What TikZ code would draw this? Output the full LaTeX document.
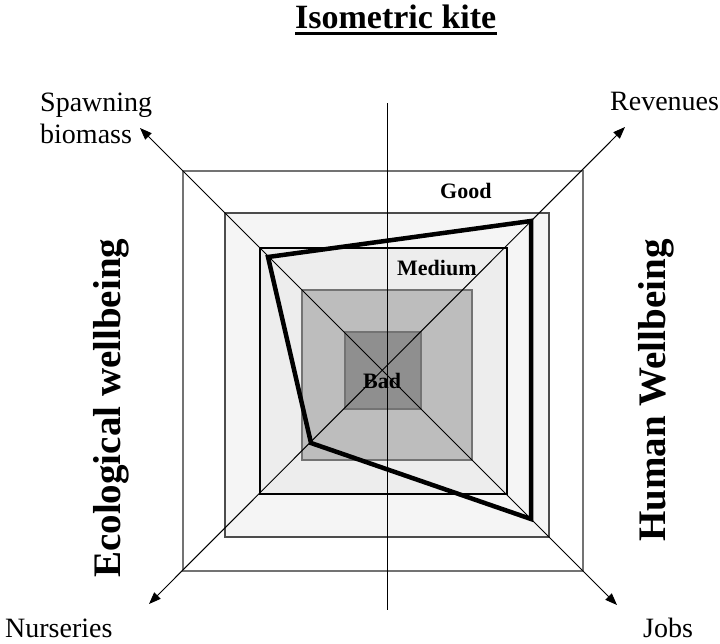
\documentclass[tikz,border=0pt]{standalone}
\usepackage{fontspec}
\setmainfont{Liberation Serif}
\usetikzlibrary{arrows.meta,positioning}

\begin{document}
\begin{tikzpicture}[x=1pt, y=-1pt,
    lbl/.style={inner sep=0pt, anchor=base west, align=left, font=\fontsize{28}{32}\selectfont},
    zone/.style={inner sep=0pt, anchor=base west, font=\bfseries\fontsize{22}{26}\selectfont},
    side/.style={inner sep=0pt, anchor=base west, rotate=90, font=\bfseries\fontsize{39}{44}\selectfont},
    ring/.style={line width=1.5pt},
    axis/.style={{Triangle[length=12pt,width=9pt]}-{Triangle[length=12pt,width=9pt]}, line width=1pt},
    kite/.style={line width=4.5pt, line join=miter}]

    \useasboundingbox (0,0) rectangle (720,643);

    % Title
    \node[inner sep=0pt, anchor=base west, font=\bfseries\fontsize{34}{40}\selectfont] (title) at (295,28) {Isometric kite};
    \draw[line width=3pt] ([yshift=-5pt]title.base west) -- ([yshift=-5pt]title.base east);

    % Zones, from good (outside) to bad (inside)
    \draw[ring, draw=black!55, fill=white] (183,171) rectangle (583,571);
    \draw[ring, draw=black!70, fill=black!4] (225,213) rectangle (549,537);
    \draw[ring, draw=black, fill=black!7] (260,248) rectangle (507,494);
    \draw[ring, draw=black!55, fill=black!26] (302,290) rectangle (472,460);
    \draw[ring, draw=black!55, fill=black!44] (345,332) rectangle (421,409);

    % Axes
    \coordinate (spawn) at (140,128);
    \coordinate (rev) at (625,127);
    \coordinate (nurs) at (149,604);
    \coordinate (jobs) at (617,605);
    \coordinate (top) at (387,103);
    \coordinate (bottom) at (387,610);
    \draw[line width=1pt] (top) -- (bottom);
    \draw[axis] (spawn) -- (jobs);
    \draw[axis] (rev) -- (nurs);

    % Kite
    \coordinate (k1) at (268,257);
    \coordinate (k2) at (531,221);
    \coordinate (k3) at (531,519);
    \coordinate (k4) at (311,443);
    \draw[kite] (k1) -- (k2) -- (k3) -- (k4) -- cycle;

    % Labels
    \node[lbl] (spawnlbl) at (40,143) {Spawning\\biomass};
    \node[lbl] (revlbl) at (610,110) {Revenues};
    \node[lbl] (nurslbl) at (5,637) {Nurseries};
    \node[lbl] (jobslbl) at (643,637) {Jobs};

    \node[zone] (good) at (440,198) {Good};
    \node[zone] (medium) at (397,275) {Medium};
    \node[zone] (bad) at (363,388) {Bad};

    \node[side] (eco) at (120,578) {Ecological wellbeing};
    \node[side] (human) at (665,542) {Human Wellbeing};

\end{tikzpicture}
\end{document}
